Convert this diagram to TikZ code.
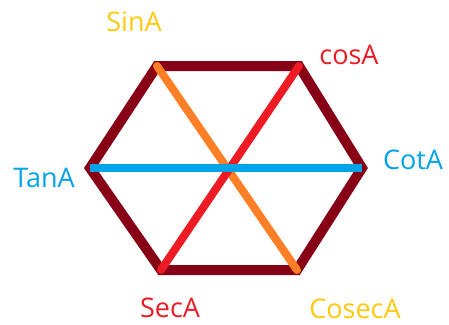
\documentclass[tikz,border=0pt]{standalone}
\usepackage{fontspec}
\setmainfont{Open Sans}
\definecolor{hexred}{HTML}{880015}
\definecolor{diagorange}{HTML}{FF7F27}
\definecolor{diagred}{HTML}{ED1C24}
\definecolor{diagblue}{HTML}{00A2E8}
\definecolor{labelgold}{HTML}{FFC90E}
\tikzset{
  edge/.style={draw=hexred, line width=10pt, line join=miter},
  diag/.style={line width=8pt, line cap=round},
  lbl/.style={font=\fontsize{27}{31}\selectfont, inner sep=0pt}
}
\begin{document}
\begin{tikzpicture}[x=1pt, y=-1pt]
\useasboundingbox (0,0) rectangle (449,324);
% hexagon vertices
\coordinate (tl) at (157,66);
\coordinate (tr) at (299,66);
\coordinate (r)  at (362,168);
\coordinate (br) at (297,270);
\coordinate (bl) at (161,270);
\coordinate (l)  at (90,168);
\draw[edge] (tl) -- (tr) -- (r) -- (br) -- (bl) -- (l) -- cycle;
% diagonals
\draw[diag, diagorange] (tl) -- (br);
\draw[diag, diagred] (tr) -- (bl);
\draw[diag, diagblue, line cap=butt] (l) -- (r);
% labels
\node[lbl, text=labelgold] (sin) at (134,22) {SinA};
\node[lbl, text=diagred] (cos) at (349,55) {cosA};
\node[lbl, text=diagblue] (tan) at (44,178) {TanA};
\node[lbl, text=diagblue] (cot) at (413,160) {CotA};
\node[lbl, text=diagred] (sec) at (170,308) {SecA};
\node[lbl, text=labelgold] (cosec) at (355,309) {CosecA};
\end{tikzpicture}
\end{document}
